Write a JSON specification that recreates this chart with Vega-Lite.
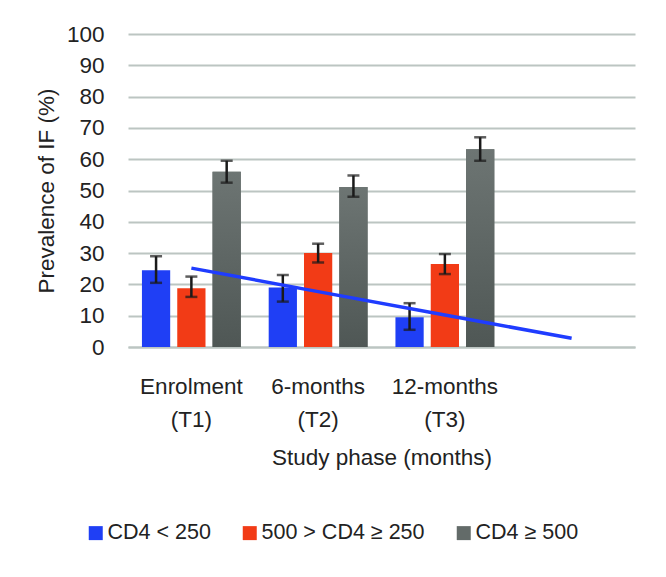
{
  "$schema": "https://vega.github.io/schema/vega-lite/v6.json",
  "width": 507,
  "height": 313,
  "autosize": "none",
  "padding": {"left": 128, "top": 34, "right": 31, "bottom": 230},
  "background": "#ffffff",
  "config": {
    "font": "Liberation Sans",
    "view": {"stroke": null},
    "axis": {"labelFont": "Liberation Sans", "titleFont": "Liberation Sans", "labelColor": "#222222", "titleColor": "#222222", "labelFontSize": 22.5, "titleFontSize": 22.5, "titleFontWeight": "normal"},
    "legend": {"labelFont": "Liberation Sans", "labelFontSize": 21.5, "labelColor": "#222222", "labelLimit": 400}
  },
  "datasets": {
    "bars": [
      {"phase": "Enrolment (T1)", "group": "CD4 < 250", "value": 24.5, "lo": 20.5, "hi": 29.0},
      {"phase": "Enrolment (T1)", "group": "500 > CD4 ≥ 250", "value": 18.8, "lo": 16.0, "hi": 22.5},
      {"phase": "Enrolment (T1)", "group": "CD4 ≥ 500", "value": 56.0, "lo": 52.5, "hi": 59.5},
      {"phase": "6-months (T2)", "group": "CD4 < 250", "value": 19.0, "lo": 14.5, "hi": 23.0},
      {"phase": "6-months (T2)", "group": "500 > CD4 ≥ 250", "value": 30.0, "lo": 27.0, "hi": 33.0},
      {"phase": "6-months (T2)", "group": "CD4 ≥ 500", "value": 51.1, "lo": 48.0, "hi": 54.8},
      {"phase": "12-months (T3)", "group": "CD4 < 250", "value": 9.5, "lo": 5.5, "hi": 14.0},
      {"phase": "12-months (T3)", "group": "500 > CD4 ≥ 250", "value": 26.5, "lo": 23.3, "hi": 29.7},
      {"phase": "12-months (T3)", "group": "CD4 ≥ 500", "value": 63.2, "lo": 59.5, "hi": 67.0}
    ],
    "trend": [
      {"phase": "Enrolment (T1)", "value": 25.2},
      {"phase": "6-months (T2)", "value": 17.7},
      {"phase": "12-months (T3)", "value": 10.2},
      {"phase": "T4", "value": 2.8}
    ]
  },
  "layer": [
    {
      "data": {"name": "bars"},
      "mark": {"type": "bar"},
      "encoding": {
        "x": {
          "field": "phase", "type": "nominal",
          "scale": {"domain": ["Enrolment (T1)", "6-months (T2)", "12-months (T3)", "T4"], "paddingInner": 0.22, "paddingOuter": 0.11},
          "axis": {"title": "Study phase (months)", "labelAngle": 0, "labelExpr": "datum.value == 'T4' ? '' : [slice(datum.value, 0, indexof(datum.value, ' ')), slice(datum.value, indexof(datum.value, ' ') + 1)]", "labelLineHeight": 33, "labelPadding": 28, "ticks": false, "domain": true, "domainColor": "#bcc5c2", "domainWidth": 2, "titlePadding": 16, "labelBaseline": "top"}
        },
        "xOffset": {
          "field": "group", "type": "nominal",
          "scale": {"domain": ["CD4 < 250", "500 > CD4 ≥ 250", "CD4 ≥ 500"], "paddingInner": 0.2, "paddingOuter": 0}
        },
        "y": {
          "field": "value", "type": "quantitative",
          "scale": {"domain": [0, 100], "nice": false},
          "axis": {"title": "Prevalence of IF (%)", "values": [0, 10, 20, 30, 40, 50, 60, 70, 80, 90, 100], "labelOverlap": false, "grid": true, "gridColor": "#bcc5c2", "gridWidth": 2, "ticks": false, "domain": false, "labelPadding": 24, "titlePadding": 8}
        },
        "color": {
          "field": "group", "type": "nominal",
          "scale": {"domain": ["CD4 < 250", "500 > CD4 ≥ 250", "CD4 ≥ 500"], "range": ["#1f3ff5", "#f23b16", "#636b69"]},
          "legend": {"title": null, "orient": "none", "direction": "horizontal", "legendX": -43, "legendY": 488, "symbolType": "square", "symbolSize": 196, "symbolStrokeWidth": 0, "labelOffset": 1, "columnPadding": 28}
        }
      }
    },
    {
      "data": {"name": "bars"},
      "transform": [{"filter": "datum.group == 'CD4 ≥ 500'"}],
      "mark": {"type": "bar", "fill": {"gradient": "linear", "x1": 0, "y1": 0, "x2": 0, "y2": 1, "stops": [{"offset": 0, "color": "#6d7573"}, {"offset": 1, "color": "#4f5755"}]}},
      "encoding": {
        "x": {
          "field": "phase", "type": "nominal",
          "scale": {"domain": ["Enrolment (T1)", "6-months (T2)", "12-months (T3)", "T4"], "paddingInner": 0.22, "paddingOuter": 0.11},
          "axis": {"title": "Study phase (months)", "labelAngle": 0, "labelExpr": "datum.value == 'T4' ? '' : [slice(datum.value, 0, indexof(datum.value, ' ')), slice(datum.value, indexof(datum.value, ' ') + 1)]", "labelLineHeight": 33, "labelPadding": 28, "ticks": false, "domain": true, "domainColor": "#bcc5c2", "domainWidth": 2, "titlePadding": 16, "labelBaseline": "top"}
        },
        "xOffset": {"field": "group", "type": "nominal", "scale": {"domain": ["CD4 < 250", "500 > CD4 ≥ 250", "CD4 ≥ 500"], "paddingInner": 0.2, "paddingOuter": 0}},
        "y": {
          "field": "value", "type": "quantitative",
          "scale": {"domain": [0, 100], "nice": false},
          "axis": {"title": "Prevalence of IF (%)", "values": [0, 10, 20, 30, 40, 50, 60, 70, 80, 90, 100], "labelOverlap": false, "grid": true, "gridColor": "#bcc5c2", "gridWidth": 2, "ticks": false, "domain": false, "labelPadding": 24, "titlePadding": 8}
        }
      }
    },
    {
      "data": {"name": "bars"},
      "mark": {"type": "rule", "color": "#1a1a1a", "strokeWidth": 2.5},
      "encoding": {
        "x": {
          "field": "phase", "type": "nominal",
          "scale": {"domain": ["Enrolment (T1)", "6-months (T2)", "12-months (T3)", "T4"], "paddingInner": 0.22, "paddingOuter": 0.11},
          "axis": {"title": "Study phase (months)", "labelAngle": 0, "labelExpr": "datum.value == 'T4' ? '' : [slice(datum.value, 0, indexof(datum.value, ' ')), slice(datum.value, indexof(datum.value, ' ') + 1)]", "labelLineHeight": 33, "labelPadding": 28, "ticks": false, "domain": true, "domainColor": "#bcc5c2", "domainWidth": 2, "titlePadding": 16, "labelBaseline": "top"}
        },
        "xOffset": {"field": "group", "type": "nominal", "scale": {"domain": ["CD4 < 250", "500 > CD4 ≥ 250", "CD4 ≥ 500"], "paddingInner": 0.2, "paddingOuter": 0}},
        "y": {
          "field": "lo", "type": "quantitative",
          "scale": {"domain": [0, 100], "nice": false},
          "axis": {"title": "Prevalence of IF (%)", "values": [0, 10, 20, 30, 40, 50, 60, 70, 80, 90, 100], "labelOverlap": false, "grid": true, "gridColor": "#bcc5c2", "gridWidth": 2, "ticks": false, "domain": false, "labelPadding": 24, "titlePadding": 8}
        },
        "y2": {"field": "hi"}
      }
    },
    {
      "data": {"name": "bars"},
      "mark": {"type": "tick", "color": "#1a1a1a", "thickness": 2.5, "size": 12},
      "encoding": {
        "x": {
          "field": "phase", "type": "nominal",
          "scale": {"domain": ["Enrolment (T1)", "6-months (T2)", "12-months (T3)", "T4"], "paddingInner": 0.22, "paddingOuter": 0.11},
          "axis": {"title": "Study phase (months)", "labelAngle": 0, "labelExpr": "datum.value == 'T4' ? '' : [slice(datum.value, 0, indexof(datum.value, ' ')), slice(datum.value, indexof(datum.value, ' ') + 1)]", "labelLineHeight": 33, "labelPadding": 28, "ticks": false, "domain": true, "domainColor": "#bcc5c2", "domainWidth": 2, "titlePadding": 16, "labelBaseline": "top"}
        },
        "xOffset": {"field": "group", "type": "nominal", "scale": {"domain": ["CD4 < 250", "500 > CD4 ≥ 250", "CD4 ≥ 500"], "paddingInner": 0.2, "paddingOuter": 0}},
        "y": {
          "field": "hi", "type": "quantitative",
          "scale": {"domain": [0, 100], "nice": false},
          "axis": {"title": "Prevalence of IF (%)", "values": [0, 10, 20, 30, 40, 50, 60, 70, 80, 90, 100], "labelOverlap": false, "grid": true, "gridColor": "#bcc5c2", "gridWidth": 2, "ticks": false, "domain": false, "labelPadding": 24, "titlePadding": 8}
        }
      }
    },
    {
      "data": {"name": "bars"},
      "mark": {"type": "tick", "color": "#1a1a1a", "thickness": 2.5, "size": 12},
      "encoding": {
        "x": {
          "field": "phase", "type": "nominal",
          "scale": {"domain": ["Enrolment (T1)", "6-months (T2)", "12-months (T3)", "T4"], "paddingInner": 0.22, "paddingOuter": 0.11},
          "axis": {"title": "Study phase (months)", "labelAngle": 0, "labelExpr": "datum.value == 'T4' ? '' : [slice(datum.value, 0, indexof(datum.value, ' ')), slice(datum.value, indexof(datum.value, ' ') + 1)]", "labelLineHeight": 33, "labelPadding": 28, "ticks": false, "domain": true, "domainColor": "#bcc5c2", "domainWidth": 2, "titlePadding": 16, "labelBaseline": "top"}
        },
        "xOffset": {"field": "group", "type": "nominal", "scale": {"domain": ["CD4 < 250", "500 > CD4 ≥ 250", "CD4 ≥ 500"], "paddingInner": 0.2, "paddingOuter": 0}},
        "y": {
          "field": "lo", "type": "quantitative",
          "scale": {"domain": [0, 100], "nice": false},
          "axis": {"title": "Prevalence of IF (%)", "values": [0, 10, 20, 30, 40, 50, 60, 70, 80, 90, 100], "labelOverlap": false, "grid": true, "gridColor": "#bcc5c2", "gridWidth": 2, "ticks": false, "domain": false, "labelPadding": 24, "titlePadding": 8}
        }
      }
    },
    {
      "data": {"name": "trend"},
      "mark": {"type": "line", "color": "#1f3cff", "strokeWidth": 3.5},
      "encoding": {
        "x": {
          "field": "phase", "type": "nominal",
          "scale": {"domain": ["Enrolment (T1)", "6-months (T2)", "12-months (T3)", "T4"], "paddingInner": 0.22, "paddingOuter": 0.11},
          "axis": {"title": "Study phase (months)", "labelAngle": 0, "labelExpr": "datum.value == 'T4' ? '' : [slice(datum.value, 0, indexof(datum.value, ' ')), slice(datum.value, indexof(datum.value, ' ') + 1)]", "labelLineHeight": 33, "labelPadding": 28, "ticks": false, "domain": true, "domainColor": "#bcc5c2", "domainWidth": 2, "titlePadding": 16, "labelBaseline": "top"}
        },
        "y": {
          "field": "value", "type": "quantitative",
          "scale": {"domain": [0, 100], "nice": false},
          "axis": {"title": "Prevalence of IF (%)", "values": [0, 10, 20, 30, 40, 50, 60, 70, 80, 90, 100], "labelOverlap": false, "grid": true, "gridColor": "#bcc5c2", "gridWidth": 2, "ticks": false, "domain": false, "labelPadding": 24, "titlePadding": 8}
        }
      }
    }
  ]
}
